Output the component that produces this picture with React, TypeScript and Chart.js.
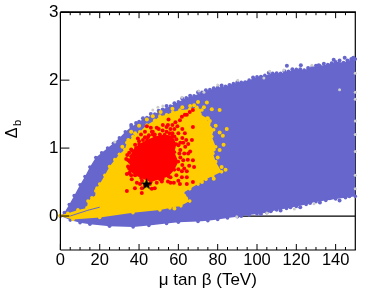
import React, { useEffect, useRef } from "react";
import { Chart, registerables } from "chart.js";

Chart.register(...registerables);

type P = [number, number];

const xMajor = [0, 20, 40, 60, 80, 100, 120, 140];
const xMinor = [5, 10, 15, 25, 30, 35, 45, 50, 55, 65, 70, 75, 85, 90, 95, 105, 110, 115, 125, 130, 135, 145];
const yMajor = [0, 1, 2, 3];

const blueRegion: P[] = [
  [0, 0], [2, 0.05], [4.5, 0.17], [7, 0.3], [10, 0.46], [12.5, 0.58], [15, 0.72], [18, 0.86], [21, 0.93], [24, 1.0],
  [27, 1.07], [30, 1.15], [33, 1.24], [36, 1.31], [40, 1.39], [44, 1.45], [48, 1.5], [52, 1.57], [56, 1.62], [60, 1.68],
  [64, 1.74], [68, 1.77], [72, 1.82], [76, 1.86], [80, 1.89], [84, 1.91], [88, 1.95], [92, 1.97], [96, 2.0], [100, 2.05],
  [104, 2.07], [108, 2.1], [112, 2.1], [116, 2.13], [120, 2.16], [124, 2.15], [128, 2.19], [132, 2.21], [136, 2.23],
  [140, 2.27], [144, 2.26], [148, 2.3], [150, 2.31], [150, 0.29], [145, 0.27], [140, 0.25], [135, 0.23], [130, 0.21],
  [125, 0.17], [120, 0.14], [115, 0.11], [110, 0.09], [105, 0.05], [100, 0.03], [96, 0.015], [90, -0.01], [85, -0.03],
  [80, -0.05], [75, -0.07], [70, -0.08], [60, -0.09], [54, -0.11], [45, -0.14], [37, -0.16], [25, -0.15], [15, -0.12],
  [10, -0.1], [5, -0.06], [0, 0],
];
const blueEdge: P[] = [
  [115.2, 2.21], [122.3, 2.22], [131.4, 2.22], [139, 2.3], [144.6, 2.33], [148, 2.31], [36, 1.34], [38.5, 1.37], [42, 1.44],
  [46, 1.5], [50, 1.55], [54, 1.62], [58, 1.66], [62, 1.73], [66, 1.77], [70, 1.82], [74, 1.85], [78, 1.88], [82, 1.92], [86, 1.93],
  [90, 1.97], [94, 1.97], [98, 2.04], [102, 2.05], [106, 2.11], [110, 2.1], [114, 2.13], [118, 2.16], [122, 2.16], [126, 2.18],
  [130, 2.21], [134, 2.24], [138, 2.25], [142, 2.29], [146, 2.29], [149, 2.33], [92, 0.0], [102, 0.03], [107, 0.07], [112, 0.08],
  [117, 0.13], [122, 0.13], [127, 0.19], [132, 0.2], [137, 0.26], [142, 0.23], [147, 0.29],
];
const greyDots: P[] = [
  [47, 1.56], [49.6, 1.6], [52.1, 1.62], [61.8, 1.75], [27.7, 1.09], [70.4, 1.84], [73, 1.82], [80, 1.93], [90.2, 2.0],
  [103.5, 2.03], [106.5, 2.13], [113.6, 2.15], [127.9, 2.22], [150, 1.82], [150, 1.72], [142, 1.86], [129, 0.18],
  [89.7, -0.01], [105, 0.045], [119, 0.105], [150, 1.4], [150, 0.95], [150, 0.6], [150, 2.1], [150, 1.2], [150, 0.4],
];
const blueSlit: P[] = [[5, 0], [14, 0.085], [20, 0.13]];
const yellowRegion: P[] = [
  [0, 0.01], [3.8, 0.04], [8.9, 0.09], [13.5, 0.12], [14, 0.22], [16, 0.27], [17.5, 0.27], [18, 0.37], [18.6, 0.41],
  [20, 0.47], [22.6, 0.6], [25, 0.73], [27.7, 0.83], [30, 0.91], [32.8, 0.98], [33.8, 1.08], [36.9, 1.17], [40.4, 1.24],
  [44, 1.34], [48, 1.41], [50.6, 1.47], [54, 1.49], [57.2, 1.53], [60.8, 1.56], [65.8, 1.57], [69.4, 1.6], [72, 1.56],
  [71, 1.5], [74.5, 1.44], [75.5, 1.36], [78, 1.27], [77, 1.17], [79, 1.02], [77.6, 0.92], [79, 0.8], [82, 0.65],
  [77.5, 0.59], [74, 0.54], [70, 0.47], [65.8, 0.4], [62.3, 0.34], [63.8, 0.27], [65.8, 0.22], [61.3, 0.15], [55.7, 0.12],
  [50.6, 0.09], [36.9, 0.05], [20, -0.02], [6.4, -0.05], [0, 0],
];
const yellowDots: P[] = [
  [81, 1.56], [84.6, 1.28], [82.6, 1.18], [77, 1.57], [74.5, 1.67], [70, 1.68], [66, 1.62], [62, 1.6], [44, 1.42], [40, 1.33], [36, 1.24],
  [51, 1.53], [75, 1.44], [79, 1.33], [81, 1.23], [83, 1.05], [81, 0.97], [84, 0.68], [82, 0.72], [78, 0.98], [80, 0.86], [73, 1.6], [68, 1.63],
  [78, 0.55], [72, 0.5], [66, 0.44], [64, 0.25], [60, 0.17], [58, 0.11], [63, 0.3], [76, 1.4],
  [57, 1.58], [47, 1.47], [38, 1.22], [34.5, 1.12], [31.5, 1.02],
];
const redCore: P[] = [
  [35.5, 0.66], [35, 0.82], [36.5, 0.96], [40, 1.06], [44, 1.12], [48, 1.17], [53, 1.2], [57, 1.18], [59, 1.06], [58, 0.94],
  [60, 0.8], [58, 0.68], [55, 0.58], [50.6, 0.54], [46, 0.5], [41, 0.56], [38, 0.6],
];
const redDots: P[] = [
  [67.4, 1.56], [64.3, 1.49], [61.8, 1.46], [65.8, 1.53], [67.4, 1.31], [66.9, 1.12], [63.3, 1.22], [60.8, 1.41], [64.8, 0.83],
  [67.4, 0.82], [64.3, 0.66], [64.3, 0.57], [61.8, 0.57], [61.8, 0.66], [67.4, 0.5], [64.3, 0.47], [60.8, 0.47], [57.7, 0.49],
  [33.8, 0.37], [41.4, 0.34], [41.4, 0.41], [39.4, 1.14], [43, 1.24], [46.5, 1.24], [52.1, 1.34], [54.7, 1.34], [54, 1.31],
  [57, 1.34], [63.3, 1.49], [47, 1.24], [50.6, 1.2], [44.5, 1.16], [42, 1.12], [34.4, 0.73], [35.3, 0.8], [33.8, 0.62],
  [36.3, 0.54], [38.9, 0.49], [37.9, 0.41], [46.5, 0.4], [48, 0.41], [51.6, 0.51], [54.7, 0.51], [53.1, 0.62], [34, 0.9],
  [36, 0.98], [38, 1.05], [36, 0.88], [33.5, 0.84], [35, 0.63], [38, 0.6], [40.5, 0.47], [43, 0.45], [45.5, 0.47], [49, 0.49],
  [52, 0.55], [56, 0.57], [59, 0.6], [60, 0.69], [62, 0.75], [61, 0.86], [63, 0.92], [61, 0.97], [63.5, 1.02], [61, 1.08],
  [59, 1.13], [62, 1.15], [60, 1.22], [57, 1.22], [54, 1.24], [50, 1.28], [48, 1.2], [45, 1.19], [41, 1.2], [58, 1.28],
  [55, 1.42], [58.5, 1.38], [44, 1.32], [66, 0.95], [65, 1.06], [68, 0.72], [56, 0.49], [37, 0.72], [38.5, 1.0], [60, 0.52],
  [36, 0.6], [35, 0.7], [34.5, 0.82], [35, 0.93], [40, 1.1], [43, 1.16], [47, 1.2], [55.5, 1.22], [58, 1.17], [41.5, 0.52],
  [62.5, 0.82], [60.5, 0.92], [62.5, 1.08], [60, 1.04], [49, 1.3], [52, 1.26], [56, 1.28], [46, 1.3], [59.5, 1.32], [62, 1.28],
  [64, 1.12], [65, 0.92], [63, 0.7], [65.5, 0.74],
];
const bestFit: P[] = [[43.8, 0.47]];
const zeroLine: P[] = [[0, 0], [150, 0]];

const toXY = (list: P[]) => list.map(([x, y]) => ({ x, y }));
const AXIS_FONT = "'Liberation Sans', Arial, sans-serif";

export default function App() {
  const ref = useRef<HTMLCanvasElement>(null);

  useEffect(() => {
    document.body.style.margin = "0";
    document.body.style.background = "#fff";

    const starCanvas = document.createElement("canvas");
    starCanvas.width = 13;
    starCanvas.height = 13;
    const sc = starCanvas.getContext("2d")!;
    sc.fillStyle = "#000";
    sc.beginPath();
    for (let i = 0; i < 10; i++) {
      const r = i % 2 === 0 ? 6.2 : 2.4;
      const a = -Math.PI / 2 + (i * Math.PI) / 5;
      sc.lineTo(6.5 + r * Math.cos(a), 6.8 + r * Math.sin(a));
    }
    sc.closePath();
    sc.fill();

    const polygonFill = {
      id: "polygonFill",
      beforeDatasetDraw(chart: any, args: any) {
        const ds = chart.data.datasets[args.index];
        if (!ds.polygon) return;
        const { ctx } = chart;
        const pts = args.meta.data;
        ctx.save();
        ctx.fillStyle = ds.polygon;
        ctx.beginPath();
        pts.forEach((p: any, i: number) => (i ? ctx.lineTo(p.x, p.y) : ctx.moveTo(p.x, p.y)));
        ctx.closePath();
        ctx.fill();
        ctx.restore();
      },
    };

    const frame = {
      id: "frame",
      beforeDatasetsDraw(chart: any) {
        const { ctx, chartArea: a } = chart;
        ctx.save();
        ctx.strokeStyle = "#000";
        ctx.lineWidth = 1.2;
        ctx.beginPath();
        ctx.moveTo(a.right, a.top);
        ctx.lineTo(a.right, a.bottom);
        ctx.stroke();
        ctx.restore();
      },
      afterDatasetsDraw(chart: any) {
        const { ctx, chartArea: a, scales } = chart;
        ctx.save();
        ctx.strokeStyle = "#000";
        const seg = (x1: number, y1: number, x2: number, y2: number, w: number) => {
          ctx.lineWidth = w;
          ctx.beginPath();
          ctx.moveTo(x1, y1);
          ctx.lineTo(x2, y2);
          ctx.stroke();
        };
        seg(a.left, a.top, a.right + 0.6, a.top, 1.8);
        seg(a.left, a.top, a.left, a.bottom, 1.2);
        seg(a.left, a.bottom, a.right + 0.6, a.bottom, 1.2);
        for (const v of xMajor) {
          const x = scales.x.getPixelForValue(v);
          seg(x, a.bottom, x, a.bottom - 6, 1);
          seg(x, a.top, x, a.top + 6, 1);
        }
        for (const v of xMinor) {
          const x = scales.x.getPixelForValue(v);
          seg(x, a.bottom, x, a.bottom - 3, 1);
          seg(x, a.top, x, a.top + 3, 1);
        }
        for (const v of yMajor) {
          const y = scales.y.getPixelForValue(v);
          seg(a.left, y, a.left + 9, y, 1);
        }
        // Delta-b axis title, which needs a subscript
        ctx.fillStyle = "#000";
        ctx.translate(17, 133);
        ctx.rotate(-Math.PI / 2);
        ctx.textAlign = "center";
        ctx.textBaseline = "alphabetic";
        ctx.font = `16px ${AXIS_FONT}`;
        ctx.fillText("\u0394", 0, 0);
        ctx.font = `11px ${AXIS_FONT}`;
        ctx.fillText("b", 10, 4);
        ctx.restore();
      },
    };

    const dot = (label: string, data: P[], color: string, radius: number) => ({
      label,
      data: toXY(data),
      showLine: false,
      pointRadius: radius,
      pointBackgroundColor: color,
      pointBorderWidth: 0,
      clip: false as const,
    });
    const region = (label: string, data: P[], color: string, radius: number) => ({
      label,
      data: toXY(data),
      polygon: color,
      showLine: false,
      pointRadius: radius,
      pointBackgroundColor: color,
      pointBorderWidth: 0,
      clip: false as const,
    });

    const chart = new Chart(ref.current!, {
      type: "scatter",
      data: {
        datasets: [
          { label: "best", data: toXY(bestFit), pointStyle: starCanvas, pointRadius: 6, showLine: false },
          dot("red", redDots, "#FF0000", 2),
          region("red core", redCore, "#FF0000", 1.8),
          dot("yellow dots", yellowDots, "#FFCC00", 2),
          { label: "slit", data: toXY(blueSlit), showLine: true, borderColor: "#6666CC", borderWidth: 1, pointRadius: 0 },
          region("yellow", yellowRegion, "#FFCC00", 1.8),
          dot("grey", greyDots, "#CCCCCC", 1.5),
          dot("blue edge", blueEdge, "#6666CC", 2),
          region("blue", blueRegion, "#6666CC", 1.8),
          { label: "zero", data: toXY(zeroLine), showLine: true, borderColor: "#000", borderWidth: 1.3, pointRadius: 0 },
        ] as any,
      },
      plugins: [polygonFill, frame],
      options: {
        responsive: false,
        animation: false,
        layout: { padding: { top: 9, right: 18.7, left: 0, bottom: 0 } },
        plugins: { legend: { display: false }, tooltip: { enabled: false } },
        scales: {
          x: {
            type: "linear",
            min: 0,
            max: 150,
            afterBuildTicks: (s: any) => { s.ticks = xMajor.map((value) => ({ value })); },
            afterFit: (s: any) => { s.height = 48; },
            grid: { display: false, drawTicks: false },
            border: { display: false },
            ticks: {
              color: "#000",
              padding: 1,
              autoSkip: false,
              maxRotation: 0,
              font: { family: AXIS_FONT, size: 16.5 },
            },
            title: {
              display: true,
              text: "\u03bc tan \u03b2 (TeV)",
              color: "#000",
              padding: { top: 0, bottom: 7 },
              font: { family: AXIS_FONT, size: 17 },
            },
          },
          y: {
            type: "linear",
            min: -0.5,
            max: 3,
            afterBuildTicks: (s: any) => { s.ticks = yMajor.map((value) => ({ value })); },
            afterFit: (s: any) => { s.width = 60.4; },
            grid: { display: false, drawTicks: false },
            border: { display: false },
            ticks: {
              color: "#000",
              padding: 2,
              font: { family: AXIS_FONT, size: 17 },
            },
          },
        },
      },
    });
    return () => chart.destroy();
  }, []);

  return <canvas ref={ref} width={374} height={298} style={{ display: "block" }} />;
}
